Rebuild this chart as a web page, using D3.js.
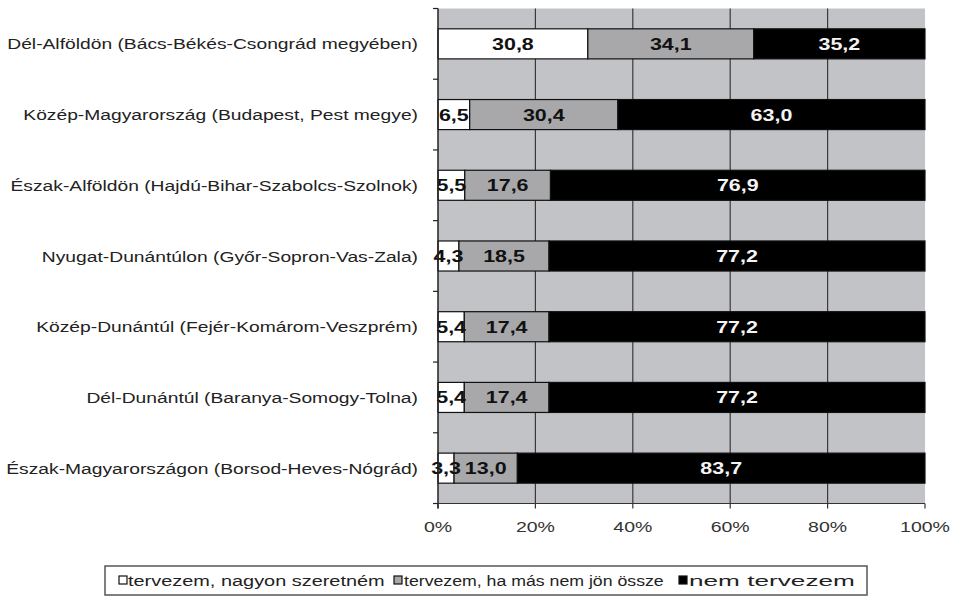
<!DOCTYPE html>
<html><head><meta charset="utf-8">
<script src="https://cdn.jsdelivr.net/npm/d3@7"></script>
<style>body{margin:0;background:#fff}svg{display:block}text{font-family:Arial,"Liberation Sans",sans-serif}</style>
</head><body>
<svg id="c" width="958" height="604"></svg>
<script>
const categories = [
  "Dél-Alföldön (Bács-Békés-Csongrád megyében)",
  "Közép-Magyarország (Budapest, Pest megye)",
  "Észak-Alföldön (Hajdú-Bihar-Szabolcs-Szolnok)",
  "Nyugat-Dunántúlon (Győr-Sopron-Vas-Zala)",
  "Közép-Dunántúl (Fejér-Komárom-Veszprém)",
  "Dél-Dunántúl (Baranya-Somogy-Tolna)",
  "Észak-Magyarországon (Borsod-Heves-Nógrád)"
];
const seriesNames = ["tervezem, nagyon szeretném", "tervezem, ha más nem jön össze", "nem tervezem"];
const veryMuch = [30.8, 6.5, 5.5, 4.3, 5.4, 5.4, 3.3];
const ifNothing = [34.1, 30.4, 17.6, 18.5, 17.4, 17.4, 13.0];
const notPlan = [35.2, 63.0, 76.9, 77.2, 77.2, 77.2, 83.7];
const tickValues = [0, 0.2, 0.4, 0.6, 0.8, 1.0];
const tickLabels = ["0%", "20%", "40%", "60%", "80%", "100%"];

const fills = ["#ffffff", "#a8a8aa", "#000000"];
const textFills = ["#111", "#111", "#f4f4f4"];

const svg = d3.select("#c");
const L = 438, R = 925, T = 8.5, B = 503.5;
const x = d3.scaleLinear().domain([0, 1]).range([L, R]);
const y = d3.scaleBand().domain(categories).range([T, B]).paddingInner(0.575).paddingOuter(0.2875);

svg.append("rect").attr("x", L).attr("y", T).attr("width", R - L).attr("height", B - T)
  .attr("fill", "#c2c3c7");

svg.append("g").selectAll("line").data(tickValues.slice(1, 5)).join("line")
  .attr("x1", d => x(d)).attr("x2", d => x(d)).attr("y1", T).attr("y2", B)
  .attr("stroke", "#3a3a3a").attr("stroke-width", 1.2);

const rows = categories.map((c, i) => {
  const vals = [veryMuch[i], ifNothing[i], notPlan[i]];
  const sum = d3.sum(vals);
  let acc = 0;
  return vals.map((v, k) => { const s = acc / sum; acc += v; return { c, k, v, x0: s, x1: acc / sum }; });
});
const segs = rows.flat();

svg.append("g").selectAll("rect").data(segs).join("rect")
  .attr("x", d => x(d.x0)).attr("y", d => y(d.c))
  .attr("width", d => x(d.x1) - x(d.x0)).attr("height", y.bandwidth())
  .attr("fill", d => fills[d.k]).attr("stroke", "#111").attr("stroke-width", 1.2);

function sText(g, xx, yy, str, size, sx, anchor, opts = {}) {
  return g.append("text")
    .attr("transform", `translate(${xx},${yy}) scale(${sx},1)`)
    .attr("text-anchor", anchor).attr("font-size", size)
    .attr("fill", opts.fill || "#222").attr("font-weight", opts.weight || "normal")
    .text(str);
}
function natWidth(g, str, size) {
  const p = g.append("text").attr("font-size", size).text(str);
  const w = p.node().getComputedTextLength(); p.remove(); return w;
}

const vg = svg.append("g");
segs.forEach(d => {
  sText(vg, (x(d.x0) + x(d.x1)) / 2, y(d.c) + y.bandwidth() / 2 + 6, d.v.toFixed(1).replace(".", ","),
    16.5, 1.3, "middle", { fill: textFills[d.k], weight: "bold" });
});

svg.append("line").attr("x1", L).attr("x2", L).attr("y1", T).attr("y2", B + 5).attr("stroke", "#222").attr("stroke-width", 1.5);
svg.append("line").attr("x1", L).attr("x2", R).attr("y1", B).attr("y2", B).attr("stroke", "#333").attr("stroke-width", 1.2);
const bounds = d3.range(categories.length + 1).map(i => T + i * y.step());
svg.append("g").selectAll("line").data(bounds).join("line")
  .attr("x1", L - 5).attr("x2", L).attr("y1", d => d).attr("y2", d => d)
  .attr("stroke", "#222").attr("stroke-width", 1.2);
svg.append("g").selectAll("line").data(tickValues).join("line")
  .attr("x1", d => x(d)).attr("x2", d => x(d)).attr("y1", B).attr("y2", B + 5)
  .attr("stroke", "#333").attr("stroke-width", 1.2);

const tg = svg.append("g");
tickValues.forEach((v, i) => sText(tg, x(v), 532, tickLabels[i], 15, 1.3, "middle", { fill: "#333" }));

const cg = svg.append("g");
const csx = 411 / natWidth(cg, categories[0], 15.5);
categories.forEach(c => sText(cg, 418, y(c) + y.bandwidth() / 2 + 5.5, c, 15.5, csx, "end", { fill: "#222" }));

// legend
const lg = svg.append("g");
lg.append("rect").attr("x", 105).attr("y", 566).attr("width", 762).attr("height", 29)
  .attr("fill", "#fff").attr("stroke", "#555").attr("stroke-width", 1.5);
const legMarkX = [119, 394, 679];
const legTextX = [128, 404, 689];
const legTextEnd = [385, 664, 855];
seriesNames.forEach((n, i) => {
  lg.append("rect").attr("x", legMarkX[i]).attr("y", 576).attr("width", 8).attr("height", 8)
    .attr("fill", fills[i]).attr("stroke", "#111").attr("stroke-width", 1.2);
  const sx = (legTextEnd[i] - legTextX[i]) / natWidth(lg, n, 14.5);
  sText(lg, legTextX[i], 586, n, 14.5, sx, "start", { fill: "#222" });
});
</script>
</body></html>
